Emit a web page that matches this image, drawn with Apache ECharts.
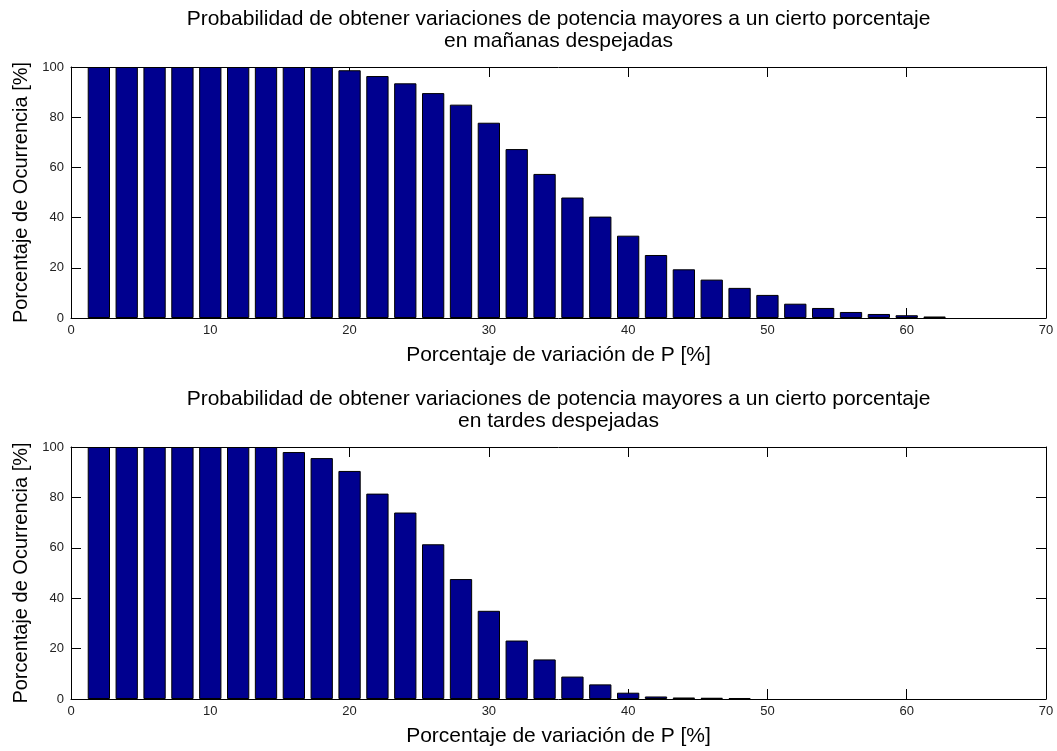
<!DOCTYPE html>
<html>
<head>
<meta charset="utf-8">
<script src="https://cdn.jsdelivr.net/npm/echarts@6/dist/echarts.min.js"></script>
<style>
html,body{margin:0;padding:0;background:#fff;}
#c{width:1057px;height:751px;}
</style>
</head>
<body>
<div id="c"></div>
<script>
// ---- data ----
const xCenters = [2,4,6,8,10,12,14,16,18,20,22,24,26,28,30,32,34,36,38,40,42,44,46,48,50,52,54,56,58,60,62];
const manana = [100,100,100,100,100,100,100,100,100,98.7,96.4,93.5,89.6,85.0,77.8,67.3,57.4,48.0,40.4,32.8,25.1,19.4,15.3,12.0,9.2,5.7,4.0,2.4,1.6,1.1,0.6];
const tarde  = [100,100,100,100,100,100,100,98.0,95.6,90.5,81.5,74.0,61.4,47.6,35.0,23.2,15.7,8.9,5.8,2.5,1.0,0.6,0.5,0.4];
const xTicks = [0,10,20,30,40,50,60,70];
const yTicks = [0,20,40,60,80,100];
const titles = [
  'Probabilidad de obtener variaciones de potencia mayores a un cierto porcentaje\nen mañanas despejadas',
  'Probabilidad de obtener variaciones de potencia mayores a un cierto porcentaje\nen tardes despejadas'
];
const xName = 'Porcentaje de variación de P [%]';
const yName = 'Porcentaje de Ocurrencia [%]';

// ---- layout ----
const FONT = '"Liberation Sans", Arial, sans-serif';
const gridLeft = 71, gridWidth = 975;
const grids = [{top:67, height:251}, {top:447, height:252}];
const xMin = 0, xMax = 70, yMin = 0, yMax = 100;
const barW = 1.6 * gridWidth / (xMax - xMin);

const chart = echarts.init(document.getElementById('c'), null, {renderer:'canvas'});

const option = {
  animation:false,
  backgroundColor:'#fff',
  title: titles.map((t,i)=>({
    text:t,
    left: gridLeft + gridWidth/2,
    textAlign:'center',
    top: grids[i].top - 59,
    padding:0,
    textStyle:{fontFamily:FONT,fontSize:21,fontWeight:'normal',color:'#000',lineHeight:22}
  })),
  grid: grids.map(g=>({left:gridLeft, width:gridWidth, top:g.top, height:g.height, containLabel:false, show:false})),
  xAxis: [],
  yAxis: [],
  series: []
};

const tickCommon = {show:true, inside:true, length:10, lineStyle:{color:'#000', width:1}};
const lineCommon = {show:true, onZero:false, lineStyle:{color:'#000', width:1}};
const labelStyle = {fontFamily:FONT, fontSize:13, color:'#222'};

[manana, tarde].forEach((vals, i)=>{
  option.xAxis.push({
    type:'value', gridIndex:i, position:'bottom', min:xMin, max:xMax, interval:10,
    axisLine:lineCommon, axisTick:tickCommon, splitLine:{show:false},
    axisLabel:Object.assign({margin:6, formatter:v=>xTicks.includes(v)?String(v):''}, labelStyle),
    name:xName, nameLocation:'middle', nameGap:27,
    nameTextStyle:{fontFamily:FONT, fontSize:21, color:'#000'}
  });
  option.xAxis.push({
    type:'value', gridIndex:i, position:'top', min:xMin, max:xMax, interval:10,
    axisLine:lineCommon, axisTick:tickCommon, splitLine:{show:false}, axisLabel:{show:false}
  });
  option.yAxis.push({
    type:'value', gridIndex:i, position:'left', min:yMin, max:yMax, interval:20,
    axisLine:lineCommon, axisTick:tickCommon, splitLine:{show:false},
    axisLabel:Object.assign({margin:7, formatter:v=>yTicks.includes(v)?String(v):''}, labelStyle),
    name:yName, nameLocation:'middle', nameGap:37, nameRotate:90,
    nameTextStyle:{fontFamily:FONT, fontSize:20, color:'#000'}
  });
  option.yAxis.push({
    type:'value', gridIndex:i, position:'right', min:yMin, max:yMax, interval:20,
    axisLine:lineCommon, axisTick:tickCommon, splitLine:{show:false}, axisLabel:{show:false}
  });
  option.series.push({
    type:'bar',
    xAxisIndex:i*2, yAxisIndex:i*2,
    data: vals.map((v,k)=>[xCenters[k], v]),
    barWidth: barW,
    itemStyle:{color:'#00008f', borderColor:'#000', borderWidth:1},
    emphasis:{disabled:true},
    silent:true
  });
});

chart.setOption(option);
</script>
</body>
</html>
